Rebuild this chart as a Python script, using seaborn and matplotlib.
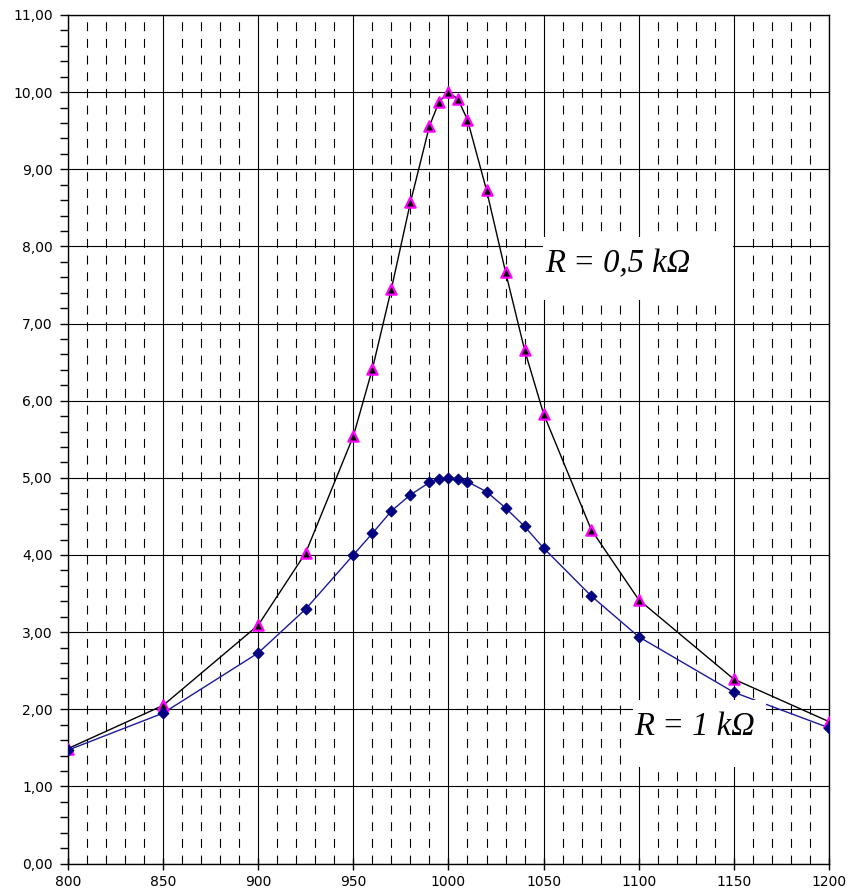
# IMPORT LIBRARIES

import numpy as np
import pandas as pd
import matplotlib
matplotlib.use("Agg")
import matplotlib.pyplot as plt
import seaborn as sns
from matplotlib.ticker import MultipleLocator, FuncFormatter
from matplotlib.patches import Rectangle


# DATA

freq = [800, 850, 900, 925, 950, 960, 970, 980, 990, 995, 1000,
        1005, 1010, 1020, 1030, 1040, 1050, 1075, 1100, 1150, 1200]

current_r05 = [1.49, 2.05, 3.09, 4.03, 5.54, 6.41, 7.45, 8.57, 9.56, 9.87, 10.00,
               9.91, 9.64, 8.73, 7.67, 6.66, 5.83, 4.33, 3.42, 2.39, 1.84]

current_r1 = [1.47, 1.95, 2.73, 3.30, 4.00, 4.28, 4.57, 4.78, 4.94, 4.98, 5.00,
              4.99, 4.95, 4.82, 4.61, 4.37, 4.09, 3.47, 2.94, 2.22, 1.76]

label_r05 = "R = 0,5 kΩ"
label_r1 = "R = 1 kΩ"

df = pd.DataFrame({
    "f": freq * 2,
    "I": current_r05 + current_r1,
    "R": [label_r05] * len(freq) + [label_r1] * len(freq),
})


# FIGURE

sns.set_theme(style="white")
plt.rcParams["font.family"] = ["DejaVu Sans"]
plt.rcParams["text.color"] = "black"
plt.rcParams["xtick.color"] = "black"
plt.rcParams["ytick.color"] = "black"

fig = plt.figure(figsize=(8.56, 8.92), dpi=100)
ax = fig.add_axes([0.0794, 0.0319, 0.889, 0.9513])


# LINES

sns.lineplot(
    data=df[df["R"] == label_r05], x="f", y="I",
    color="black", linewidth=1.0, ax=ax, zorder=3
)
sns.lineplot(
    data=df[df["R"] == label_r1], x="f", y="I",
    color="#1a1a9a", linewidth=1.0, ax=ax, zorder=3
)


# MARKERS

sns.scatterplot(
    data=df[df["R"] == label_r05], x="f", y="I",
    marker="^", s=55, color="black", edgecolor="#ff00ff",
    linewidth=1.6, ax=ax, zorder=5
)
sns.scatterplot(
    data=df[df["R"] == label_r1], x="f", y="I",
    marker="D", s=30, color="#000080", edgecolor="#000080",
    linewidth=0.8, ax=ax, zorder=5
)


# AXES AND GRID

ax.set_xlim(800, 1200)
ax.set_ylim(0, 11)

ax.xaxis.set_major_locator(MultipleLocator(50))
ax.xaxis.set_minor_locator(MultipleLocator(10))
ax.yaxis.set_major_locator(MultipleLocator(1))
ax.yaxis.set_minor_locator(MultipleLocator(0.2))

ax.yaxis.set_major_formatter(FuncFormatter(lambda v, p: f"{v:.2f}".replace(".", ",")))
ax.xaxis.set_major_formatter(FuncFormatter(lambda v, p: f"{int(v)}"))

ax.grid(which="major", axis="both", color="black", linewidth=0.8, linestyle="-")
ax.grid(which="minor", axis="x", color="black", linewidth=0.8, linestyle=(0, (8, 7)))
ax.set_axisbelow(True)

ax.tick_params(axis="y", which="major", direction="out", length=6, width=1,
               left=True, labelsize=10, pad=5, colors="black")
ax.tick_params(axis="y", which="minor", direction="out", length=6, width=1, left=True)
ax.tick_params(axis="x", which="major", direction="inout", length=9, width=1,
               bottom=True, labelsize=10, pad=4, colors="black")
ax.tick_params(axis="x", which="minor", direction="in", length=0)

for side in ["left", "bottom", "top", "right"]:
    ax.spines[side].set_color("black")
    ax.spines[side].set_linewidth(1.0)

ax.set_xlabel("")
ax.set_ylabel("")


# LABELS

ax.add_patch(Rectangle((0.624, 0.664), 0.25, 0.074, transform=ax.transAxes,
                       facecolor="white", edgecolor="none", zorder=4))
ax.text(0.627, 0.707, label_r05, transform=ax.transAxes, fontsize=23.5,
        family="Liberation Serif", style="italic", color="black",
        va="center", ha="left", zorder=6)

ax.add_patch(Rectangle((0.742, 0.114), 0.175, 0.079, transform=ax.transAxes,
                       facecolor="white", edgecolor="none", zorder=4))
ax.text(0.744, 0.161, label_r1, transform=ax.transAxes, fontsize=23.5,
        family="Liberation Serif", style="italic", color="black",
        va="center", ha="left", zorder=6)


# SAVE

plt.savefig("out.png", dpi=100)
plt.close()
